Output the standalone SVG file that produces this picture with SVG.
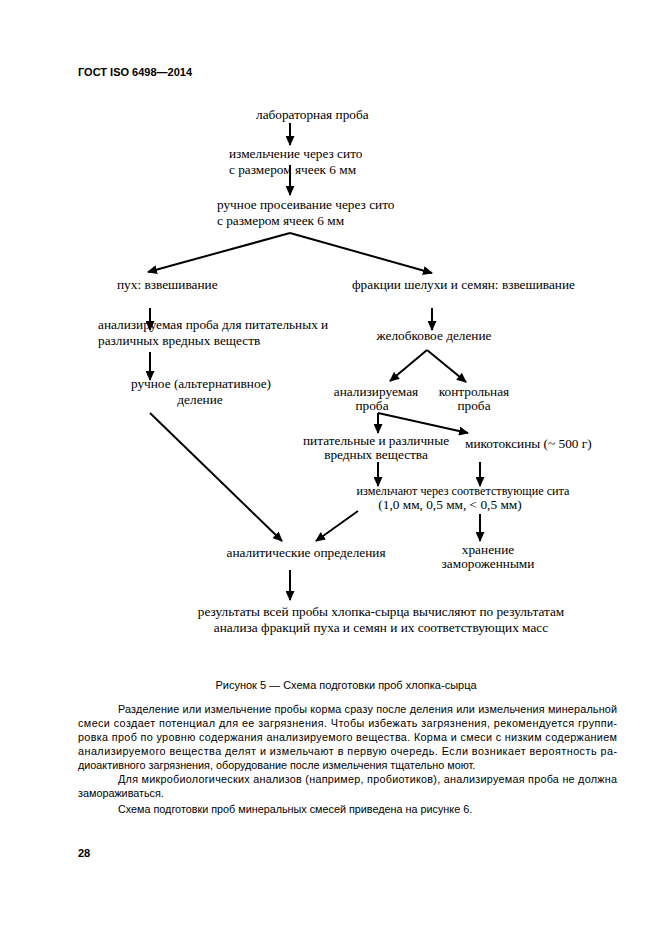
<svg xmlns="http://www.w3.org/2000/svg" width="661" height="935" viewBox="0 0 661 935">
<style>
.f{font-family:"Liberation Serif","Times New Roman",serif;font-size:13.3px;fill:#000}
.s{font-family:"Liberation Sans",Arial,sans-serif;font-size:10.8px;fill:#000}
.b{font-family:"Liberation Sans",Arial,sans-serif;font-size:11px;font-weight:bold;fill:#000}
.c line{stroke:#000;stroke-width:2;marker-end:url(#ah)}
.m{text-anchor:middle}
</style>
<defs>
<marker id="ah" markerUnits="userSpaceOnUse" markerWidth="10" markerHeight="9" refX="9" refY="4.5" orient="auto">
<path d="M0,0 L10,4.5 L0,9 z" fill="#000"/>
</marker>
</defs>
<rect width="661" height="935" fill="#fff"/>
<text class="b" x="78" y="76">ГОСТ ISO 6498—2014</text>
<g id="n1"><text class="f" x="256" y="119">лабораторная проба</text></g>
<g id="n2"><text class="f" x="229" y="158">измельчение через сито</text><text class="f" x="229" y="174">с размером ячеек 6 мм</text></g>
<g id="n3"><text class="f" x="217" y="209">ручное просеивание через сито</text><text class="f" x="217" y="225">с размером ячеек 6 мм</text></g>
<g id="n4"><text class="f" x="117" y="289">пух: взвешивание</text></g>
<g id="n5"><text class="f" x="352" y="289">фракции шелухи и семян: взвешивание</text></g>
<g id="n6"><text class="f" x="98" y="329">анализируемая проба для питательных и</text><text class="f" x="98" y="345">различных вредных веществ</text></g>
<g id="n7"><text class="f m" x="201" y="388">ручное (альтернативное)</text><text class="f m" x="200" y="404">деление</text></g>
<g id="n8"><text class="f m" x="434" y="340">желобковое деление</text></g>
<g id="n9"><text class="f m" x="376" y="396">анализируемая</text><text class="f m" x="372" y="410">проба</text></g>
<g id="n10"><text class="f m" x="474" y="396">контрольная</text><text class="f m" x="474" y="410">проба</text></g>
<g id="n11"><text class="f m" x="376" y="445">питательные и различные</text><text class="f m" x="376" y="459">вредных вещества</text></g>
<g id="n12"><text class="f" x="465" y="448">микотоксины (~ 500 г)</text></g>
<g id="n13"><text class="f m" x="463" y="495" textLength="213" lengthAdjust="spacingAndGlyphs">измельчают через соответствующие сита</text><text class="f m" x="450" y="509">(1,0 мм, 0,5 мм, &lt; 0,5 мм)</text></g>
<g id="n14"><text class="f m" x="488" y="554">хранение</text><text class="f m" x="488" y="568">замороженными</text></g>
<g id="n15"><text class="f m" x="306" y="557">аналитические определения</text></g>
<g id="n16"><text class="f m" x="381" y="616">результаты всей пробы хлопка-сырца вычисляют по результатам</text><text class="f m" x="381" y="632">анализа фракций пуха и семян и их соответствующих масс</text></g>
<g id="connectors" class="c">
<line x1="290" y1="123" x2="290" y2="145"/>
<line x1="290" y1="165" x2="290" y2="195"/>
<line x1="290" y1="233" x2="148" y2="272"/>
<line x1="290" y1="233" x2="432" y2="273"/>
<line x1="150" y1="308" x2="150" y2="330"/>
<line x1="150" y1="352" x2="150" y2="380"/>
<line x1="432" y1="308" x2="432" y2="330"/>
<line x1="427" y1="350" x2="390" y2="381"/>
<line x1="427" y1="350" x2="466" y2="382"/>
<line x1="378" y1="413" x2="378" y2="433"/>
<line x1="378" y1="413" x2="468" y2="433"/>
<line x1="378" y1="462" x2="378" y2="486"/>
<line x1="480" y1="462" x2="480" y2="486"/>
<line x1="480" y1="514" x2="480" y2="541"/>
<line x1="358" y1="511" x2="316" y2="541"/>
<line x1="150" y1="413" x2="282" y2="541"/>
<line x1="290" y1="570" x2="290" y2="600"/>
</g>
<text class="s m" x="346" y="689" style="font-size:11px">Рисунок 5 — Схема подготовки проб хлопка-сырца</text>
<text class="s" x="118" y="713" textLength="499" lengthAdjust="spacing">Разделение или измельчение пробы корма сразу после деления или измельчения минеральной</text>
<text class="s" x="78" y="727" textLength="539" lengthAdjust="spacing">смеси создает потенциал для ее загрязнения. Чтобы избежать загрязнения, рекомендуется группи-</text>
<text class="s" x="78" y="741" textLength="539" lengthAdjust="spacing">ровка проб по уровню содержания анализируемого вещества. Корма и смеси с низким содержанием</text>
<text class="s" x="78" y="755" textLength="539" lengthAdjust="spacing">анализируемого вещества делят и измельчают в первую очередь. Если возникает вероятность ра-</text>
<text class="s" x="78" y="769">диоактивного загрязнения, оборудование после измельчения тщательно моют.</text>
<text class="s" x="118" y="783" textLength="499" lengthAdjust="spacing">Для микробиологических анализов (например, пробиотиков), анализируемая проба не должна</text>
<text class="s" x="78" y="797">замораживаться.</text>
<text class="s" x="118" y="813">Схема подготовки проб минеральных смесей приведена на рисунке 6.</text>
<text class="b" x="78" y="857">28</text>
</svg>
